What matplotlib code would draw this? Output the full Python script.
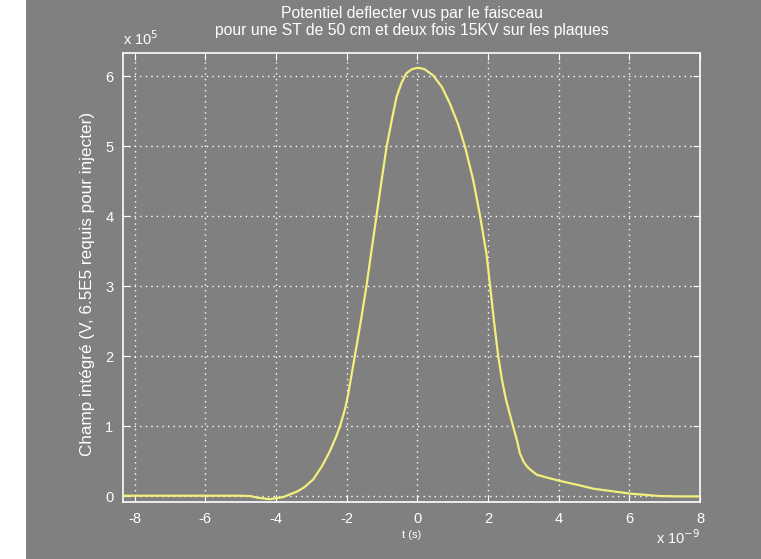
import numpy as np
import matplotlib
matplotlib.use('Agg')
import matplotlib.pyplot as plt
from matplotlib.patches import Rectangle

# time in ns (plotted as x 10^-9 s), field in units of 1e5 V
t_ns = [-8.33, -7.0, -6.0, -5.0, -4.74, -4.5, -4.18, -3.8, -3.4, -3.2, -2.95, -2.7,
	-2.48, -2.3, -2.19, -2.05, -1.96, -1.77, -1.6, -1.44, -1.3, -1.16, -1.0, -0.87,
	-0.72, -0.59, -0.45, -0.31, -0.15, 0.02, 0.2, 0.45, 0.7, 0.92, 1.15, 1.35, 1.58,
	1.77, 1.96, 2.05, 2.17, 2.29, 2.4, 2.51, 2.71, 2.82, 2.90, 3.0, 3.1, 3.19, 3.38,
	3.66, 4.04, 4.60, 4.98, 5.5, 6.02, 6.5, 6.87, 7.4, 8.0]
champ = [0.01, 0.01, 0.01, 0.01, 0.005, -0.02, -0.04, -0.01, 0.07, 0.13, 0.24, 0.43,
	0.64, 0.85, 1.0, 1.24, 1.45, 2.0, 2.5, 3.0, 3.5, 3.99, 4.55, 4.99,
	5.38, 5.70, 5.90, 6.04, 6.10, 6.12, 6.10, 6.01, 5.84, 5.61, 5.32, 4.99, 4.52,
	4.02, 3.45, 3.05, 2.5, 2.0, 1.65, 1.38, 1.0, 0.8, 0.62, 0.50, 0.43, 0.385, 0.31,
	0.27, 0.22, 0.157, 0.11, 0.075, 0.04, 0.02, 0.005, 0.0, 0.0]

xticks = [-8, -6, -4, -2, 0, 2, 4, 6, 8]
yticks = [0, 1, 2, 3, 4, 5, 6]

gray = '#808080'
plt.rcParams['font.family'] = ['Liberation Sans', 'DejaVu Sans']

fig = plt.figure(figsize=(7.61, 5.59), dpi=100, facecolor='white')
fig.patches.append(Rectangle((26/761, 0), 1 - 26/761, 1, transform=fig.transFigure,
	facecolor=gray, edgecolor='none', zorder=-10))

ax = fig.add_axes([123/761, 57/559, 577/761, 449/559])
ax.set_facecolor(gray)
ax.plot(t_ns, champ, color='#f3ef7c', lw=1.6, zorder=3)

ax.set_xlim(-8.33, 8)
ax.set_ylim(-0.08, 6.33)
ax.set_xticks(xticks)
ax.set_yticks(yticks)
ax.set_xticklabels([str(v) for v in xticks])
ax.set_yticklabels([str(v) for v in yticks])
ax.grid(True, color='white', linestyle=(0, (1, 3)), lw=1.0)
ax.tick_params(colors='white', direction='in', top=True, right=True, length=5,
	labelsize=10.5, pad=7)
for s in ax.spines.values():
	s.set_color('white')
	s.set_linewidth(1.2)

ax.set_title('Potentiel deflecter vus par le faisceau\npour une ST de 50 cm et deux fois 15KV sur les plaques',
	color='white', fontsize=11.3, pad=13, linespacing=1.15)
ax.set_ylabel('Champ intégré (V, 6.5E5 requis pour injecter)', color='white', fontsize=12.3)
ax.yaxis.set_label_coords(-0.049, 0.485)
ax.set_xlabel('t (s)', color='white', fontsize=8, labelpad=3)

# MATLAB style exponent labels
ax.text(0.0, 1.012, r'x 10$^{5}$', transform=ax.transAxes, color='white', fontsize=10.5,
	ha='left', va='bottom')
ax.text(1.0, -0.058, r'x 10$^{-9}$', transform=ax.transAxes, color='white', fontsize=10.5,
	ha='right', va='top')

fig.savefig('out.png', dpi=100, facecolor=fig.get_facecolor())
